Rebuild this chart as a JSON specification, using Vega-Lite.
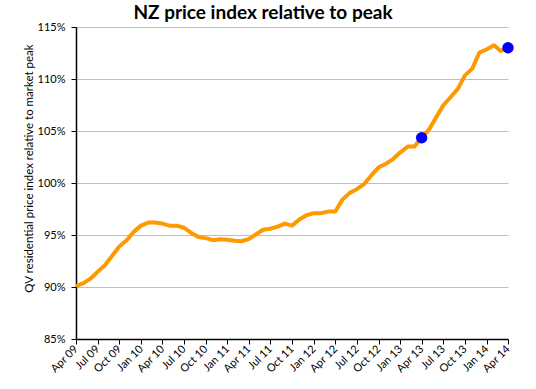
{
  "$schema": "https://vega.github.io/schema/vega-lite/v6.json",
  "width": 432,
  "height": 312,
  "autosize": "none",
  "padding": {"left": 76, "top": 27, "right": 28, "bottom": 50},
  "background": "white",
  "config": {"view": {"stroke": null}, "font": "Lato"},
  "title": {"text": "NZ price index relative to peak", "fontSize": 19, "fontWeight": "bold", "font": "Lato", "color": "#000000", "anchor": "middle", "dx": -29, "offset": -2},
  "datasets": {
    "series": [
      {"date": "2009-04-01", "index": 90.1},
      {"date": "2009-05-01", "index": 90.35},
      {"date": "2009-06-01", "index": 90.8},
      {"date": "2009-07-01", "index": 91.45},
      {"date": "2009-08-01", "index": 92.1},
      {"date": "2009-09-01", "index": 93.0},
      {"date": "2009-10-01", "index": 93.9},
      {"date": "2009-11-01", "index": 94.5},
      {"date": "2009-12-01", "index": 95.3},
      {"date": "2010-01-01", "index": 95.9},
      {"date": "2010-02-01", "index": 96.2},
      {"date": "2010-03-01", "index": 96.2},
      {"date": "2010-04-01", "index": 96.1},
      {"date": "2010-05-01", "index": 95.9},
      {"date": "2010-06-01", "index": 95.9},
      {"date": "2010-07-01", "index": 95.7},
      {"date": "2010-08-01", "index": 95.2},
      {"date": "2010-09-01", "index": 94.8},
      {"date": "2010-10-01", "index": 94.7},
      {"date": "2010-11-01", "index": 94.5},
      {"date": "2010-12-01", "index": 94.6},
      {"date": "2011-01-01", "index": 94.55},
      {"date": "2011-02-01", "index": 94.45},
      {"date": "2011-03-01", "index": 94.4},
      {"date": "2011-04-01", "index": 94.6},
      {"date": "2011-05-01", "index": 95.05},
      {"date": "2011-06-01", "index": 95.5},
      {"date": "2011-07-01", "index": 95.6},
      {"date": "2011-08-01", "index": 95.8},
      {"date": "2011-09-01", "index": 96.1},
      {"date": "2011-10-01", "index": 95.9},
      {"date": "2011-11-01", "index": 96.5},
      {"date": "2011-12-01", "index": 96.9},
      {"date": "2012-01-01", "index": 97.1},
      {"date": "2012-02-01", "index": 97.1},
      {"date": "2012-03-01", "index": 97.25},
      {"date": "2012-04-01", "index": 97.25},
      {"date": "2012-05-01", "index": 98.4},
      {"date": "2012-06-01", "index": 99.05},
      {"date": "2012-07-01", "index": 99.4},
      {"date": "2012-08-01", "index": 99.9},
      {"date": "2012-09-01", "index": 100.75},
      {"date": "2012-10-01", "index": 101.5},
      {"date": "2012-11-01", "index": 101.85},
      {"date": "2012-12-01", "index": 102.3},
      {"date": "2013-01-01", "index": 102.95},
      {"date": "2013-02-01", "index": 103.5},
      {"date": "2013-03-01", "index": 103.5},
      {"date": "2013-04-01", "index": 104.35},
      {"date": "2013-05-01", "index": 105.1},
      {"date": "2013-06-01", "index": 106.3},
      {"date": "2013-07-01", "index": 107.45},
      {"date": "2013-08-01", "index": 108.25},
      {"date": "2013-09-01", "index": 109.05},
      {"date": "2013-10-01", "index": 110.35},
      {"date": "2013-11-01", "index": 111.0},
      {"date": "2013-12-01", "index": 112.55},
      {"date": "2014-01-01", "index": 112.85},
      {"date": "2014-02-01", "index": 113.25},
      {"date": "2014-03-01", "index": 112.7},
      {"date": "2014-04-01", "index": 113.0}
    ],
    "highlights": [
      {"date": "2013-04-01", "index": 104.35},
      {"date": "2014-04-01", "index": 113.0}
    ]
  },
  "encoding": {
    "x": {
      "field": "date", "type": "temporal",
      "scale": {"type": "utc", "domain": ["2009-04-01", "2014-04-01"], "nice": false},
      "axis": {
        "title": null,
        "labelExpr": "utcFormat(datum.value, '%b %y')",
        "tickCount": {"interval": "month", "step": 3},
        "labelAngle": -45, "labelAlign": "right", "labelBaseline": "middle",
        "labelFontSize": 11, "labelColor": "#000000", "labelFont": "Lato",
        "labelPadding": 3, "tickSize": 5, "tickColor": "#000000", "domainColor": "#000000", "domainWidth": 1.5,
        "grid": false, "labelOverlap": false, "labelFlush": false
      }
    },
    "y": {
      "field": "index", "type": "quantitative",
      "scale": {"domain": [85, 115], "nice": false, "zero": false},
      "axis": {
        "title": "QV residential price index relative to market peak",
        "titleFontSize": 11.5, "titleFontWeight": "normal", "titleColor": "#000000", "titleFont": "Lato",
        "titleX": -47, "titleY": 141, "titleAngle": -90, "titleAlign": "center", "titleBaseline": "middle",
        "values": [85, 90, 95, 100, 105, 110, 115],
        "labelExpr": "datum.value + '%'",
        "labelFontSize": 11, "labelColor": "#000000", "labelFont": "Lato", "labelPadding": 6,
        "tickSize": 5, "tickColor": "#000000", "domainColor": "#000000", "domainWidth": 1.5,
        "grid": true, "gridColor": "#BFBFBF", "gridWidth": 1
      }
    }
  },
  "layer": [
    {
      "data": {"name": "series"},
      "mark": {"type": "line", "color": "#FF9900", "strokeWidth": 4, "strokeJoin": "round"}
    },
    {
      "data": {"name": "highlights"},
      "mark": {"type": "point", "filled": true, "color": "#0000FF", "size": 130, "opacity": 1}
    }
  ]
}
